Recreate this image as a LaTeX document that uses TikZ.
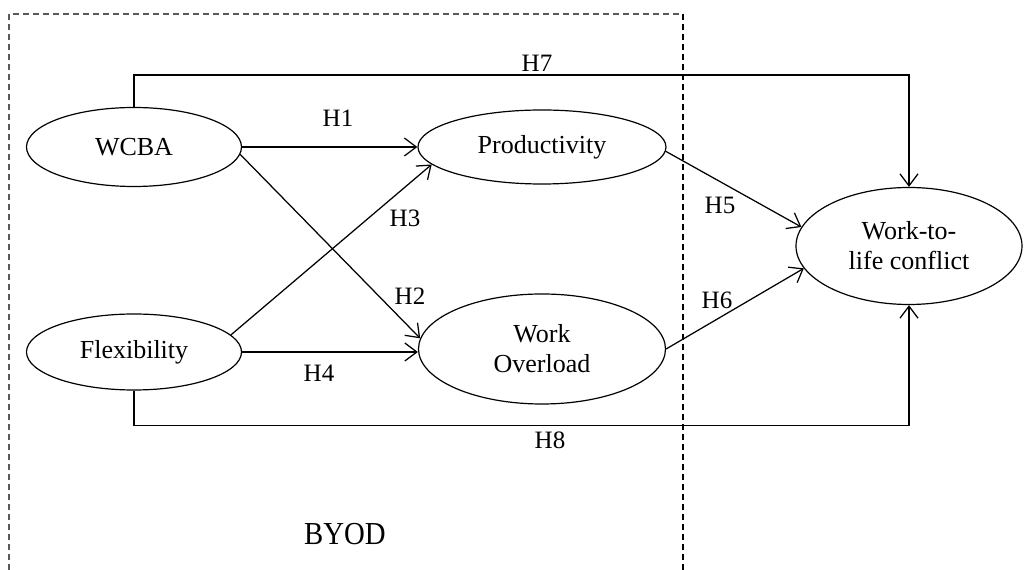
\documentclass[tikz,border=0pt]{standalone}
\usepackage{fontspec}
\setmainfont{Liberation Serif}
\usetikzlibrary{arrows.meta,shapes.geometric}

\begin{document}
\begin{tikzpicture}[x=1pt,y=1pt,
  construct/.style={draw, ellipse, line width=1.2pt, inner sep=0pt,
    align=center, font=\fontsize{26}{30}\selectfont},
  path/.style={draw, line width=1.25pt,
    -{Straight Barb[length=12pt,width=18pt,line width=1.25pt]}},
  hyp/.style={font=\fontsize{25}{30}\selectfont, inner sep=0pt},
  boundary/.style={line width=1.1pt, dash pattern=on 6pt off 4pt}
]
\useasboundingbox (0,0) rectangle (1029,570);

% BYOD boundary, open at the bottom
\coordinate (bl) at (9,0);
\coordinate (tl) at (9,556);
\coordinate (tr) at (683,556);
\coordinate (br) at (683,0);
\draw[boundary, black!65] (bl) -- (tl) -- (tr);
\draw[boundary] (tr) -- (br);
\node[font=\fontsize{32}{32}\selectfont, xscale=0.9] (byod) at (345,36) {BYOD};

% constructs
\node[construct, minimum width=215pt, minimum height=79pt] (wcba) at (134,423) {WCBA};
\node[construct, minimum width=215pt, minimum height=76pt] (flex) at (134,218) {Flexibility};
\node[construct, minimum width=248pt, minimum height=74pt] (prod) at (542,423) {Productivity};
\node[construct, minimum width=247pt, minimum height=110pt] (wo) at (542,221) {Work\\Overload};
\node[construct, minimum width=226pt, minimum height=117pt] (wtl) at (909,324) {Work-to-\\life conflict};

% hypothesised paths
\draw[path] (wcba.east) -- (prod.west);
\draw[path] (wcba.-4) -- (wo.175);
\draw[path] (flex.10) -- (prod.189);
\draw[path] (flex.east) -- (flex.east -| wo.west);
\draw[path] (prod.-2) -- (wtl.170);
\draw[path] (wo.east) -- (wtl.192);
\draw[path] (wcba.north) -- ++(0,32) -| (wtl.north);
\draw[path] (flex.south) -- ++(0,-35) -| (wtl.south);

% hypothesis labels
\node[hyp] (h1) at (338,452) {H1};
\node[hyp] (h2) at (410,274) {H2};
\node[hyp] (h3) at (405,352) {H3};
\node[hyp] (h4) at (319,197) {H4};
\node[hyp] (h5) at (720,365) {H5};
\node[hyp] (h6) at (717,270) {H6};
\node[hyp] (h7) at (537,507) {H7};
\node[hyp] (h8) at (550,130) {H8};
\end{tikzpicture}
\end{document}
